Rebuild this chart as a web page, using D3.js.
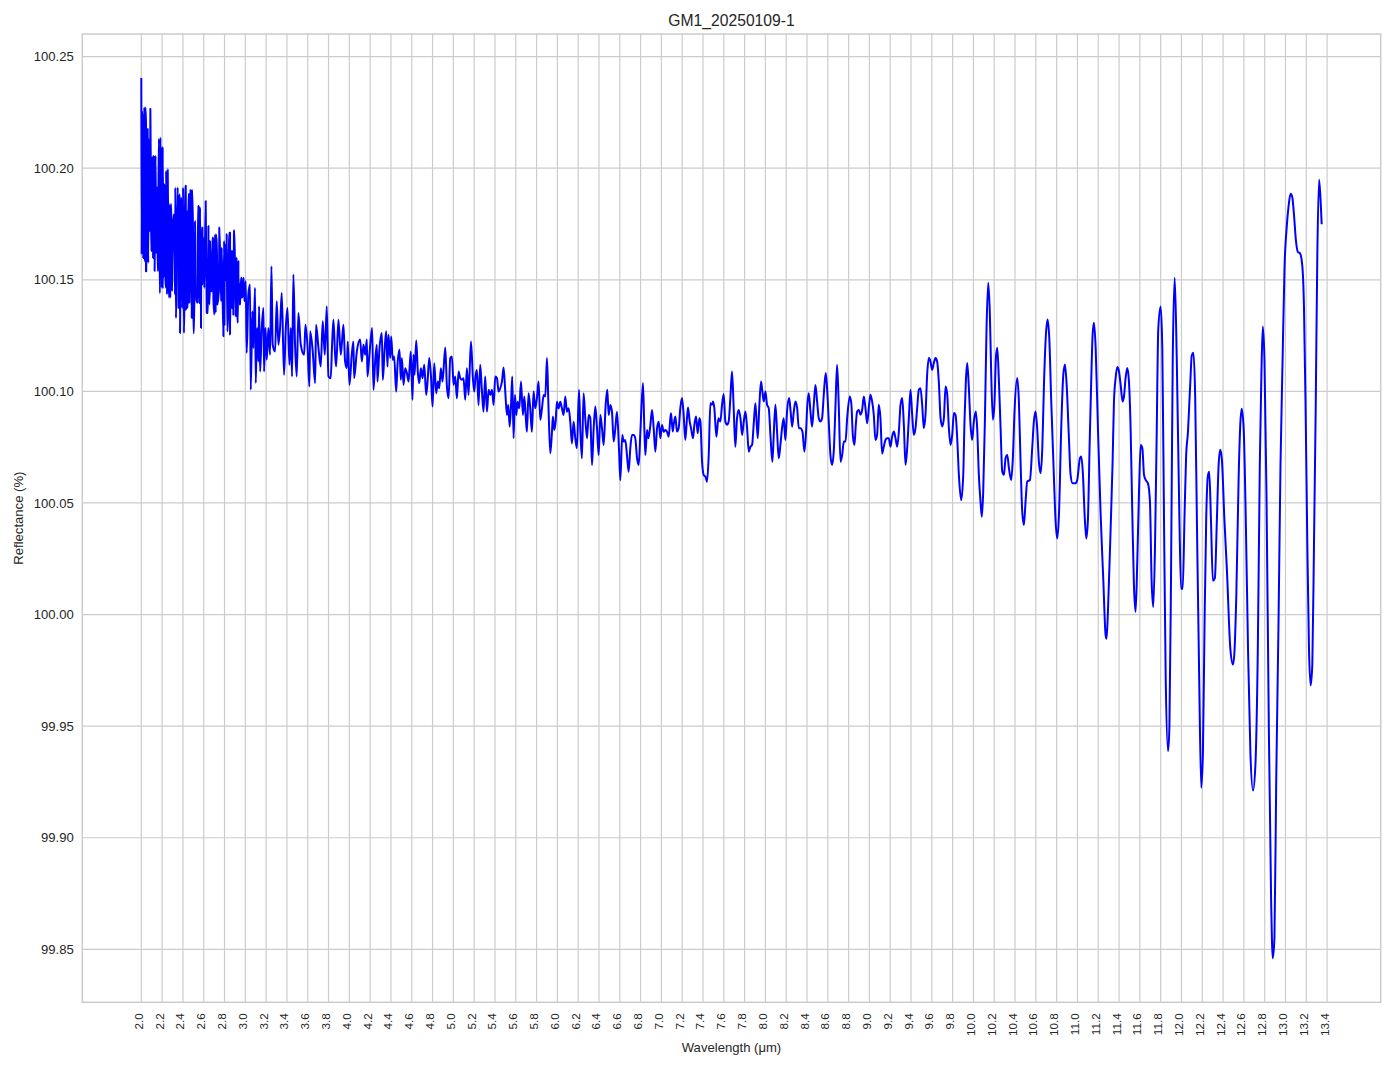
<!DOCTYPE html>
<html>
<head>
<meta charset="utf-8">
<script src="https://cdn.jsdelivr.net/npm/d3@7"></script>
<style>
  html, body { margin: 0; padding: 0; background: #ffffff; }
  svg { display: block; }
  text { font-family: "Liberation Sans", Arial, "DejaVu Sans", sans-serif; fill: #262626; }
</style>
</head>
<body>
<div id="chart"></div>
<script>
// ---- Data ----
const chartTitle = "GM1_20250109-1";
const xLabel = "Wavelength (μm)";
const yLabel = "Reflectance (%)";

// [wavelength µm, reflectance %]
const band2to43 = [
[2.000,100.2404],[2.003,100.1613],[2.013,100.2197],[2.019,100.1598],[2.029,100.2272],[2.035,100.1583],[2.045,100.2205],[2.048,100.1539],[2.061,100.2175],[2.067,100.1576],
[2.074,100.1988],[2.083,100.1733],[2.087,100.2260],[2.093,100.1853],[2.099,100.1658],[2.106,100.2048],[2.112,100.1703],[2.119,100.2003],[2.128,100.1539],[2.138,100.2055],
[2.148,100.1643],[2.154,100.1883],[2.157,100.1598],[2.170,100.2130],[2.180,100.1441],[2.192,100.1883],[2.202,100.2093],[2.205,100.1464],[2.218,100.1928],[2.228,100.1583],
[2.237,100.1464],[2.253,100.1995],[2.269,100.1419],[2.282,100.1838],[2.295,100.1449],[2.305,100.1733],[2.317,100.1778],[2.324,100.1434],[2.333,100.1329],[2.343,100.1733],
[2.350,100.1913],[2.359,100.1583],[2.366,100.1883],[2.372,100.1262],[2.388,100.1823],[2.398,100.1434],[2.410,100.1262],[2.420,100.1920],[2.430,100.1583],[2.443,100.1374],
[2.452,100.1883],[2.468,100.1583],[2.484,100.1329],[2.487,100.1898],[2.500,100.1583],[2.507,100.1262],[2.516,100.1763],[2.532,100.1404],[2.545,100.1831],[2.558,100.1396],
[2.564,100.1823],[2.574,100.1284],[2.587,100.1733],[2.596,100.1554],[2.619,100.1853],[2.641,100.1351],[2.645,100.1741],[2.661,100.1509],[2.680,100.1449],[2.693,100.1681],
[2.702,100.1344],[2.718,100.1703],[2.731,100.1434],[2.750,100.1733],[2.770,100.1509],[2.789,100.1247],[2.802,100.1583],[2.821,100.1703],[2.827,100.1269],[2.840,100.1583],
[2.853,100.1711],[2.859,100.1524],[2.872,100.1583],[2.885,100.1434],[2.891,100.1718],[2.911,100.1509],[2.924,100.1344],[2.933,100.1583],[2.949,100.1434],[2.965,100.1509],
[2.981,100.1449],[3.004,100.1494],[3.013,100.1172],[3.029,100.1434],[3.045,100.1479],[3.052,100.1007],[3.068,100.1359],[3.077,100.1194],[3.093,100.1464],[3.100,100.1037],
[3.113,100.1284],[3.126,100.1134],[3.132,100.1381],[3.142,100.1089],[3.158,100.1284],[3.174,100.1374],[3.180,100.1089],[3.193,100.1284],[3.206,100.1142],[3.222,100.1284],
[3.238,100.1164],[3.251,100.1561],[3.263,100.1209],[3.286,100.1179],[3.302,100.1404],[3.318,100.1209],[3.334,100.1284],[3.350,100.1441],[3.372,100.1074],[3.389,100.1284],
[3.405,100.1374],[3.424,100.1119],[3.437,100.1284],[3.449,100.1067],[3.462,100.1524],[3.478,100.1209],[3.494,100.1067],[3.510,100.1351],[3.533,100.1209],[3.565,100.1164],
[3.578,100.1299],[3.597,100.1209],[3.616,100.1022],[3.623,100.1269],[3.648,100.1179],[3.671,100.1037],[3.680,100.1299],[3.703,100.1194],[3.725,100.1112],[3.744,100.1314],
[3.764,100.1164],[3.783,100.1381],[3.799,100.1067],[3.821,100.1059],[3.834,100.1209],[3.847,100.1321],[3.863,100.1164],[3.873,100.1112],[3.895,100.1321],[3.918,100.1164],
[3.943,100.1299],[3.959,100.1134],[3.975,100.1104],[3.985,100.1224],[4.001,100.1029],[4.023,100.1164],[4.039,100.1224],[4.046,100.1059],[4.072,100.1179],[4.104,100.1232],
[4.120,100.1134],[4.136,100.1209],[4.152,100.1164],[4.168,100.1232],[4.174,100.1067],[4.193,100.1164],[4.219,100.1284],[4.232,100.1007],[4.248,100.1134],[4.264,100.1209],
[4.270,100.1044],[4.290,100.1194]
];

// finer readings of the densest noise (2.0–2.5 µm)
const band2to25Detail = [
[2.007,100.2257],[2.016,100.1598],[2.023,100.2138],[2.032,100.1583],[2.039,100.2272],[2.045,100.1538],[2.052,100.2175],[2.064,100.1688],[2.071,100.2130],[2.080,100.1718],
[2.087,100.2265],[2.096,100.1628],[2.103,100.2040],[2.113,100.1598],[2.119,100.2055],[2.129,100.1621],[2.135,100.2025],[2.141,100.1621],[2.151,100.1913],[2.161,100.1538],
[2.167,100.2130],[2.177,100.1441],[2.183,100.2138],[2.196,100.1464],[2.205,100.2093],[2.215,100.1509],[2.222,100.1920],[2.231,100.1509],[2.238,100.1988],[2.247,100.1434],
[2.254,100.1988],[2.263,100.1479],[2.270,100.1838],[2.279,100.1419],[2.289,100.1838],[2.298,100.1553],[2.311,100.1793],[2.321,100.1613],[2.327,100.1913],[2.337,100.1419],
[2.350,100.1913],[2.359,100.1374],[2.369,100.1853],[2.375,100.1419],[2.382,100.1868],[2.392,100.1374],[2.401,100.1913],[2.414,100.1389],[2.424,100.1920],[2.433,100.1389],
[2.440,100.1808],[2.449,100.1404],[2.462,100.1883],[2.472,100.1905]
];

// finer readings of the noise 2.4–3.0 µm
const band24to30Detail = [
[2.427,100.1921],[2.430,100.1367],[2.446,100.1434],[2.452,100.1883],[2.462,100.1397],[2.468,100.1786],[2.485,100.1329],[2.491,100.1901],[2.501,100.1262],[2.517,100.1734],
[2.526,100.1404],[2.542,100.1397],[2.549,100.1831],[2.555,100.1464],[2.565,100.1824],[2.574,100.1329],[2.581,100.1734],[2.587,100.1479],[2.597,100.1689],[2.606,100.1464],
[2.619,100.1853],[2.629,100.1352],[2.645,100.1689],[2.654,100.1389],[2.661,100.1674],[2.670,100.1449],[2.683,100.1689],[2.693,100.1419],[2.709,100.1704],[2.715,100.1352],
[2.725,100.1659],[2.731,100.1389],[2.747,100.1464],[2.751,100.1734],[2.767,100.1404],[2.773,100.1644],[2.789,100.1270],[2.796,100.1674],[2.799,100.1299],[2.805,100.1659],
[2.818,100.1494],[2.821,100.1704],[2.837,100.1374],[2.844,100.1711],[2.853,100.1255],[2.860,100.1636],[2.869,100.1374],[2.876,100.1629],[2.885,100.1344],[2.895,100.1722],
[2.908,100.1337],[2.917,100.1599],[2.927,100.1307],[2.933,100.1509],[2.949,100.1389],[2.959,100.1509],[2.966,100.1419],[2.982,100.1509],[2.991,100.1404]
];

const band43to71 = [
[4.312,100.1261],[4.322,100.1052],[4.338,100.1179],[4.354,100.1269],[4.367,100.1111],[4.376,100.1254],[4.393,100.1149],[4.402,100.1246],[4.418,100.1141],[4.431,100.1156],
[4.450,100.0999],[4.463,100.1119],[4.482,100.1186],[4.495,100.1052],[4.505,100.1149],[4.521,100.1029],[4.537,100.1104],[4.553,100.1082],[4.569,100.1044],[4.579,100.1104],
[4.591,100.1179],[4.607,100.0962],[4.617,100.1164],[4.627,100.1074],[4.643,100.1228],[4.659,100.1082],[4.672,100.1037],[4.688,100.1104],[4.704,100.1059],[4.720,100.1119],
[4.739,100.0984],[4.752,100.1044],[4.768,100.1149],[4.784,100.1074],[4.800,100.0932],[4.816,100.1126],[4.835,100.0992],[4.851,100.1044],[4.864,100.1014],[4.880,100.1104],
[4.896,100.1044],[4.922,100.1197],[4.938,100.1022],[4.954,100.0969],[4.970,100.1149],[4.986,100.1156],[5.002,100.1029],[5.018,100.1067],[5.034,100.0969],[5.050,100.1089],
[5.066,100.1059],[5.082,100.1052],[5.098,100.1059],[5.114,100.0962],[5.130,100.1104],[5.146,100.0984],[5.169,100.1224],[5.188,100.1059],[5.201,100.0999],[5.213,100.1067],
[5.226,100.1096],[5.242,100.0939],[5.258,100.1119],[5.274,100.1007],[5.290,100.0909],[5.306,100.1067],[5.323,100.0909],[5.339,100.1007],[5.355,100.0984],[5.371,100.1007],
[5.387,100.0939],[5.403,100.1067],[5.419,100.1059],[5.435,100.0999],[5.451,100.1014],[5.467,100.1044],[5.483,100.1107],[5.499,100.0999],[5.515,100.0894],[5.528,100.0939],
[5.541,100.0842],[5.553,100.0924],[5.566,100.1067],[5.579,100.0790],[5.592,100.0984],[5.605,100.0894],[5.617,100.0954],[5.634,100.0924],[5.650,100.1044],[5.669,100.0894],
[5.682,100.0977],[5.695,100.0894],[5.707,100.0819],[5.723,100.0992],[5.739,100.0924],[5.755,100.0819],[5.771,100.0999],[5.787,100.0924],[5.803,100.0969],[5.819,100.1044],
[5.836,100.0872],[5.852,100.0924],[5.868,100.0984],[5.884,100.0977],[5.900,100.1149],[5.913,100.0954],[5.932,100.0722],[5.948,100.0819],[5.957,100.0887],[5.970,100.0827],
[5.983,100.0864],[5.996,100.0954],[6.012,100.0924],[6.028,100.0954],[6.044,100.0924],[6.060,100.0894],[6.076,100.0977],[6.092,100.0909],[6.108,100.0924],[6.124,100.0864],
[6.140,100.0767],[6.156,100.0864],[6.172,100.0790],[6.188,100.0745],[6.208,100.1007],[6.220,100.0834],[6.236,100.0700],[6.252,100.0992],[6.268,100.0879],[6.285,100.0790],
[6.301,100.0894],[6.317,100.0879],[6.333,100.0670],[6.349,100.0834],[6.365,100.0932],[6.381,100.0834],[6.397,100.0715],[6.413,100.0894],[6.429,100.0834],[6.445,100.0760],
[6.464,100.0939],[6.480,100.1007],[6.493,100.0894],[6.509,100.0939],[6.525,100.0909],[6.541,100.0775],[6.557,100.0834],[6.573,100.0909],[6.592,100.0745],[6.605,100.0602],
[6.624,100.0804],[6.637,100.0775],[6.653,100.0782],[6.669,100.0715],[6.685,100.0640],[6.701,100.0745],[6.717,100.0804],[6.733,100.0804],[6.749,100.0790],[6.766,100.0700],
[6.782,100.0670],[6.798,100.0819],[6.823,100.1037],[6.836,100.0834],[6.846,100.0715],[6.862,100.0827],[6.875,100.0790],[6.894,100.0849],[6.910,100.0917],[6.926,100.0834],
[6.942,100.0730],[6.958,100.0834],[6.974,100.0864],[6.990,100.0790],[7.006,100.0849],[7.022,100.0819],[7.038,100.0827],[7.054,100.0819],[7.070,100.0797],[7.086,100.0879]
];

const band71to97 = [
[7.093,100.0902],[7.109,100.0820],[7.118,100.0850],[7.134,100.0887],[7.150,100.0820],[7.166,100.0835],[7.182,100.0925],[7.198,100.0970],[7.214,100.0895],[7.230,100.0782],
[7.246,100.0880],[7.256,100.0928],[7.272,100.0865],[7.285,100.0835],[7.304,100.0790],[7.317,100.0850],[7.333,100.0887],[7.349,100.0812],[7.365,100.0880],[7.375,100.0865],
[7.391,100.0685],[7.407,100.0625],[7.423,100.0618],[7.439,100.0595],[7.455,100.0715],[7.471,100.0947],[7.487,100.0940],[7.497,100.0955],[7.509,100.0925],[7.529,100.0797],
[7.548,100.0880],[7.567,100.0865],[7.583,100.0940],[7.599,100.0988],[7.615,100.0865],[7.631,100.0850],[7.647,100.0865],[7.663,100.0970],[7.679,100.1089],[7.695,100.0925],
[7.711,100.0752],[7.727,100.0880],[7.743,100.0917],[7.760,100.0880],[7.776,100.0805],[7.792,100.0865],[7.808,100.0910],[7.824,100.0835],[7.840,100.0730],[7.856,100.0752],
[7.872,100.0760],[7.888,100.0857],[7.904,100.0947],[7.926,100.0790],[7.942,100.0940],[7.958,100.1044],[7.971,100.0999],[7.984,100.0955],[8.000,100.0999],[8.016,100.0940],
[8.032,100.0925],[8.048,100.0805],[8.067,100.0685],[8.080,100.0805],[8.096,100.0940],[8.112,100.0820],[8.128,100.0700],[8.144,100.0760],[8.160,100.0835],[8.176,100.0880],
[8.192,100.0782],[8.208,100.0910],[8.228,100.0970],[8.241,100.0917],[8.257,100.0842],[8.273,100.0910],[8.289,100.0955],[8.305,100.0925],[8.321,100.0835],[8.337,100.0835],
[8.356,100.0820],[8.375,100.0730],[8.391,100.0820],[8.401,100.0925],[8.417,100.0992],[8.433,100.0910],[8.449,100.0842],[8.465,100.0940],[8.481,100.1029],[8.497,100.0955],
[8.513,100.0880],[8.529,100.0865],[8.545,100.0880],[8.561,100.0985],[8.580,100.1082],[8.593,100.1014],[8.609,100.0865],[8.625,100.0715],[8.641,100.0670],[8.657,100.0730],
[8.673,100.0925],[8.689,100.1119],[8.705,100.0940],[8.722,100.0685],[8.738,100.0715],[8.754,100.0775],[8.770,100.0775],[8.786,100.0880],[8.811,100.0977],[8.827,100.0940],
[8.840,100.0805],[8.856,100.0760],[8.869,100.0850],[8.882,100.0910],[8.898,100.0917],[8.914,100.0895],[8.930,100.0917],[8.946,100.0977],[8.962,100.0925],[8.978,100.0857],
[8.997,100.0940],[9.010,100.0985],[9.026,100.0955],[9.042,100.0895],[9.058,100.0782],[9.074,100.0805],[9.090,100.0940],[9.106,100.0880],[9.122,100.0722],[9.138,100.0752],
[9.154,100.0782],[9.170,100.0790],[9.186,100.0790],[9.202,100.0752],[9.218,100.0797],[9.235,100.0820],[9.251,100.0790],[9.267,100.0752],[9.283,100.0820],[9.299,100.0940],
[9.315,100.0970],[9.331,100.0850],[9.347,100.0670],[9.363,100.0745],[9.379,100.0880],[9.395,100.1007],[9.411,100.0895],[9.427,100.0805],[9.443,100.0835],[9.459,100.0925],
[9.475,100.1007],[9.491,100.1014],[9.507,100.0940],[9.523,100.0835],[9.539,100.0895],[9.555,100.1074],[9.571,100.1149],[9.587,100.1134],[9.603,100.1097],[9.619,100.1127],
[9.635,100.1149],[9.651,100.1134],[9.667,100.1044],[9.684,100.0880]
];

const band97to117 = [
[9.700,100.0843],[9.716,100.0880],[9.732,100.1022],[9.748,100.0985],[9.764,100.0835],[9.780,100.0760],[9.796,100.0805],[9.812,100.0903],[9.828,100.0895],[9.844,100.0790],
[9.860,100.0626],[9.882,100.0513],[9.902,100.0626],[9.914,100.0865],[9.927,100.1045],[9.940,100.1127],[9.956,100.1015],[9.972,100.0850],[9.988,100.0783],[10.004,100.0865],
[10.023,100.0910],[10.036,100.0835],[10.052,100.0626],[10.068,100.0506],[10.081,100.0438],[10.094,100.0551],[10.110,100.0865],[10.126,100.1284],[10.142,100.1487],[10.158,100.1344],
[10.171,100.1075],[10.187,100.0873],[10.203,100.0955],[10.216,100.1150],[10.229,100.1195],[10.245,100.1045],[10.261,100.0835],[10.277,100.0641],[10.293,100.0626],[10.309,100.0701],
[10.325,100.0715],[10.341,100.0656],[10.363,100.0603],[10.379,100.0701],[10.395,100.0910],[10.421,100.1060],[10.437,100.0955],[10.453,100.0686],[10.469,100.0461],[10.485,100.0401],
[10.501,100.0506],[10.517,100.0596],[10.543,100.0603],[10.565,100.0745],[10.581,100.0865],[10.597,100.0910],[10.613,100.0835],[10.629,100.0686],[10.646,100.0633],[10.662,100.0745],
[10.678,100.1030],[10.697,100.1255],[10.713,100.1322],[10.729,100.1240],[10.748,100.0955],[10.774,100.0611],[10.790,100.0416],[10.806,100.0341],[10.822,100.0446],[10.844,100.0835],
[10.864,100.1075],[10.880,100.1120],[10.896,100.1030],[10.918,100.0790],[10.934,100.0626],[10.953,100.0588],[10.982,100.0588],[10.998,100.0603],[11.024,100.0701],[11.037,100.0708],
[11.053,100.0626],[11.069,100.0446],[11.085,100.0341],[11.101,100.0431],[11.117,100.0760],[11.133,100.1060],[11.146,100.1255],[11.159,100.1307],[11.175,100.1195],[11.197,100.0835],
[11.223,100.0446],[11.248,100.0161],[11.271,99.9907],[11.280,99.9892],[11.293,100.0012],[11.319,100.0386],[11.338,100.0686],[11.351,100.0955],[11.367,100.1060],[11.383,100.1109],
[11.399,100.1090],[11.415,100.1030],[11.434,100.0955],[11.447,100.0977],[11.463,100.1060],[11.479,100.1105],[11.495,100.1045],[11.511,100.0835],[11.527,100.0461],[11.543,100.0131],
[11.559,100.0012],[11.575,100.0236],[11.591,100.0536],[11.608,100.0760],[11.624,100.0745],[11.640,100.0626],[11.656,100.0603],[11.678,100.0588],[11.697,100.0506]
];

const band117to134 = [
[11.713,100.0151],[11.729,100.0034],[11.745,100.0292],[11.761,100.0786],[11.777,100.1279],[11.800,100.1380],[11.816,100.1185],[11.832,100.0433],[11.848,99.9729],[11.871,99.9388],
[11.884,99.9494],[11.900,100.0198],[11.916,100.1138],[11.935,100.1509],[11.955,100.1138],[11.980,100.0433],[11.996,100.0116],[12.012,100.0116],[12.029,100.0433],[12.045,100.0715],
[12.061,100.0809],[12.083,100.1020],[12.099,100.1161],[12.115,100.1173],[12.132,100.0973],[12.148,100.0433],[12.170,99.9729],[12.190,99.9224],[12.206,99.9376],[12.222,99.9963],
[12.238,100.0433],[12.254,100.0621],[12.267,100.0640],[12.283,100.0433],[12.302,100.0151],[12.321,100.0163],[12.341,100.0433],[12.357,100.0668],[12.373,100.0739],[12.389,100.0692],
[12.412,100.0433],[12.437,100.0198],[12.470,99.9846],[12.495,99.9776],[12.508,99.9822],[12.527,100.0081],[12.550,100.0621],[12.566,100.0856],[12.579,100.0922],[12.598,100.0833],
[12.618,100.0433],[12.640,99.9846],[12.663,99.9376],[12.688,99.9212],[12.711,99.9329],[12.734,99.9846],[12.753,100.0668],[12.769,100.1091],[12.782,100.1291],[12.798,100.1138],
[12.817,100.0551],[12.840,99.9494],[12.862,99.8719],[12.878,99.8460],[12.894,99.8554],[12.911,99.9259],[12.933,99.9963],[12.952,100.0668],[12.972,100.1138],[12.991,100.1561],
[13.010,100.1725],[13.030,100.1831],[13.049,100.1885],[13.065,100.1871],[13.081,100.1796],[13.100,100.1678],[13.120,100.1624],[13.139,100.1619],[13.162,100.1561],[13.178,100.1373],
[13.194,100.0903],[13.210,100.0316],[13.226,99.9846],[13.242,99.9682],[13.258,99.9776],[13.274,100.0316],[13.290,100.0903],[13.306,100.1608],[13.323,100.1948],[13.339,100.1843],
[13.348,100.1749]
];

const xTicks = [2.0,2.2,2.4,2.6,2.8,3.0,3.2,3.4,3.6,3.8,4.0,4.2,4.4,4.6,4.8,5.0,5.2,5.4,5.6,5.8,
  6.0,6.2,6.4,6.6,6.8,7.0,7.2,7.4,7.6,7.8,8.0,8.2,8.4,8.6,8.8,9.0,9.2,9.4,9.6,9.8,
  10.0,10.2,10.4,10.6,10.8,11.0,11.2,11.4,11.6,11.8,12.0,12.2,12.4,12.6,12.8,13.0,13.2,13.4];
const yTicks = [99.85,99.90,99.95,100.00,100.05,100.10,100.15,100.20,100.25];

// ---- Layout ----
const W = 1394, H = 1069;
const plot = { left: 82.3, right: 1380.7, top: 34, bottom: 1002.3 };

const spectrum = [].concat(band2to43, band2to25Detail, band24to30Detail,
  band43to71, band71to97, band97to117, band117to134)
  .sort((a, b) => a[0] - b[0]);

const xExt = d3.extent(spectrum, d => d[0]);
const yExt = d3.extent(spectrum, d => d[1]);
const xPad = (xExt[1] - xExt[0]) * 0.05;
const yPad = (yExt[1] - yExt[0]) * 0.05;

const x = d3.scaleLinear().domain([xExt[0] - xPad, xExt[1] + xPad]).range([plot.left, plot.right]);
const y = d3.scaleLinear().domain([yExt[0] - yPad, yExt[1] + yPad]).range([plot.bottom, plot.top]);

const svg = d3.select("#chart").append("svg").attr("width", W).attr("height", H);
svg.append("rect").attr("width", W).attr("height", H).attr("fill", "#ffffff");

// Grid
const grid = svg.append("g");
grid.selectAll("line.gx").data(xTicks).enter().append("line")
  .attr("x1", d => x(d)).attr("x2", d => x(d))
  .attr("y1", plot.top).attr("y2", plot.bottom)
  .attr("stroke", "#cccccc").attr("stroke-width", 1.2);
grid.selectAll("line.gy").data(yTicks).enter().append("line")
  .attr("y1", d => y(d)).attr("y2", d => y(d))
  .attr("x1", plot.left).attr("x2", plot.right)
  .attr("stroke", "#cccccc").attr("stroke-width", 1.2);

// Line
svg.append("defs").append("clipPath").attr("id", "clip").append("rect")
  .attr("x", plot.left).attr("y", plot.top)
  .attr("width", plot.right - plot.left).attr("height", plot.bottom - plot.top);

const line = d3.line().x(d => x(d[0])).y(d => y(d[1])).curve(d3.curveMonotoneX);
svg.append("path").datum(spectrum)
  .attr("clip-path", "url(#clip)")
  .attr("d", line).attr("fill", "none")
  .attr("stroke", "#0000ff").attr("stroke-width", 2)
  .attr("stroke-linejoin", "round").attr("stroke-linecap", "butt");

// Spines
svg.append("rect")
  .attr("x", plot.left).attr("y", plot.top)
  .attr("width", plot.right - plot.left).attr("height", plot.bottom - plot.top)
  .attr("fill", "none").attr("stroke", "#cccccc").attr("stroke-width", 1.5);

// X tick labels (rotated)
svg.append("g").selectAll("text").data(xTicks).enter().append("text")
  .attr("transform", d => `translate(${x(d) + 1.5},${plot.bottom + 11}) rotate(-90)`)
  .attr("text-anchor", "end")
  .style("font-size", "11.7px")
  .text(d => d.toFixed(1));

// Y tick labels
svg.append("g").selectAll("text").data(yTicks).enter().append("text")
  .attr("x", plot.left - 8.5).attr("y", d => y(d))
  .attr("dy", "0.36em")
  .attr("text-anchor", "end")
  .style("font-size", "13.1px")
  .text(d => d.toFixed(2));

// Axis labels and title
svg.append("text").attr("x", (plot.left + plot.right) / 2).attr("y", 1052)
  .attr("text-anchor", "middle").style("font-size", "13.1px").text(xLabel);
svg.append("text").attr("transform", `translate(23,${(plot.top + plot.bottom) / 2}) rotate(-90)`)
  .attr("text-anchor", "middle").style("font-size", "13.1px").text(yLabel);
svg.append("text").attr("x", (plot.left + plot.right) / 2).attr("y", 26)
  .attr("text-anchor", "middle").style("font-size", "15.7px").text(chartTitle);
</script>
</body>
</html>
